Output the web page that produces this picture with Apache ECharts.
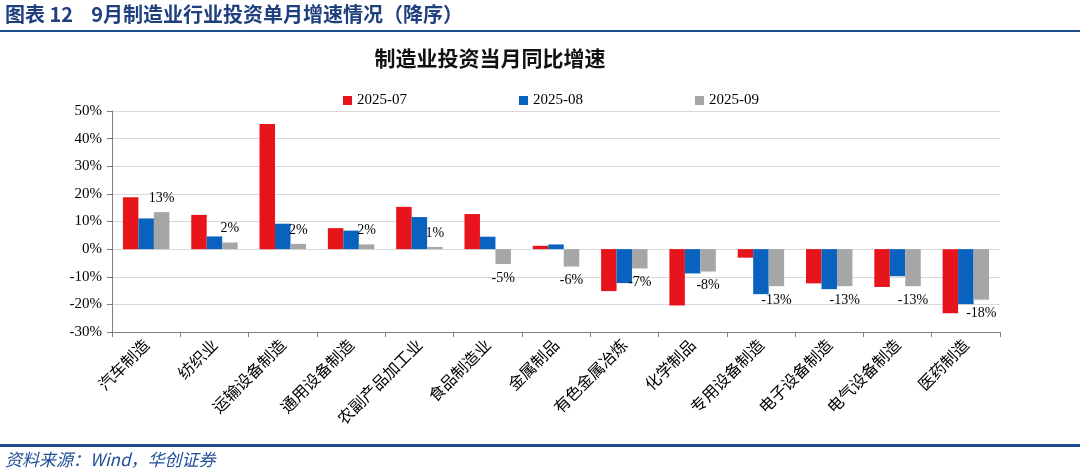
<!DOCTYPE html>
<html><head><meta charset="utf-8">
<script src="https://cdn.jsdelivr.net/npm/echarts@6/dist/echarts.min.js"></script>
<style>html,body{margin:0;padding:0;background:#fff}#c{width:1080px;height:475px}</style>
</head><body><div id="c"></div>
<script>
const categories = ['汽车制造','纺织业','运输设备制造','通用设备制造','农副产品加工业','食品制造业','金属制品','有色金属冶炼','化学制品','专用设备制造','电子设备制造','电气设备制造','医药制造'];
const s2507 = [18.8, 12.4, 45.3, 7.6, 15.3, 12.7, 1.2, -15.2, -20.4, -3.1, -12.4, -13.7, -23.2];
const s2508 = [11.1, 4.6, 9.2, 6.7, 11.6, 4.5, 1.7, -12.3, -8.8, -16.3, -14.5, -9.8, -19.9];
const s2509 = [13.4, 2.4, 1.9, 1.7, 0.8, -5.4, -6.3, -7.0, -8.1, -13.4, -13.4, -13.4, -18.3];
const yTicks = [-30, -20, -10, 0, 10, 20, 30, 40, 50];

const serif = '"Liberation Serif","Times New Roman",serif';
const cjk = '"Noto Sans CJK SC",sans-serif';
const chart = echarts.init(document.getElementById('c'));
chart.setOption({
  animation: false,
  backgroundColor: '#fff',
  graphic: [
    {type:'text', left: 5, top: 4, style:{text:'图表 12    9月制造业行业投资单月增速情况（降序）', font:'bold 20px "Noto Sans CJK SC"', fill:'#1F3F7F'}},
    {type:'rect', shape:{x:0, y:30, width:1080, height:2}, style:{fill:'#1F4E8C'}},
    {type:'rect', shape:{x:0, y:444, width:1080, height:3}, style:{fill:'#1F4E8C'}},
    {type:'text', left: 5, top: 451, style:{text:'资料来源：Wind，华创证券', font:'italic 17px "Noto Sans CJK SC"', fill:'#1F4E96'}}
  ],
  title: {
    text: '制造业投资当月同比增速', left: 485, top: 43, textAlign: 'center',
    textStyle: {fontFamily: cjk, fontSize: 21, fontWeight: 'bold', color: '#111'}
  },
  legend: {
    left: 338, top: 88, itemWidth: 9, itemHeight: 9, itemGap: 112,
    icon: 'rect',
    textStyle: {fontFamily: serif, fontSize: 15, color: '#000'},
    data: ['2025-07','2025-08','2025-09']
  },
  grid: {left: 112, right: 80, top: 111, bottom: 143},
  xAxis: [
    {type:'category', data: categories, position:'bottom',
     axisLine:{show:false}, axisTick:{show:false},
     axisLabel:{rotate:45, interval:0, margin:10, fontFamily: cjk, fontSize:16, color:'#000'}},
    {type:'category', data: categories, position:'bottom',
     axisLine:{show:true, onZero:true, lineStyle:{color:'#7F7F7F', width:1}},
     axisTick:{show:true, alignWithLabel:false, interval:0, length:5, lineStyle:{color:'#7F7F7F'}},
     axisLabel:{show:false}}
  ],
  yAxis: {
    type:'value', min: yTicks[0], max: yTicks[yTicks.length-1], interval: 10,
    axisLine:{show:true, lineStyle:{color:'#7F7F7F'}},
    axisTick:{show:true, length:5, lineStyle:{color:'#7F7F7F'}},
    axisLabel:{formatter: v => v + '%', fontFamily: serif, fontSize: 15, color:'#000', margin: 10},
    splitLine:{lineStyle:{color:'#D9D9D9'}}
  },
  series: [
    {name:'2025-07', type:'bar', data: s2507, barGap:'0%', barCategoryGap:'32%', itemStyle:{color:'#E8141C'}},
    {name:'2025-08', type:'bar', data: s2508, barGap:'0%', barCategoryGap:'32%', itemStyle:{color:'#0862BE'}},
    {name:'2025-09', type:'bar', barGap:'0%', barCategoryGap:'32%', itemStyle:{color:'#A6A6A6'},
     data: s2509.map(v => ({value: v, label:{position: v < 0 ? 'bottom' : 'top'}})),
     label:{show:true, distance: 7, formatter: p => Math.round(p.value) + '%', fontFamily: serif, fontSize: 14, color:'#000'}}
  ]
});
</script></body></html>
